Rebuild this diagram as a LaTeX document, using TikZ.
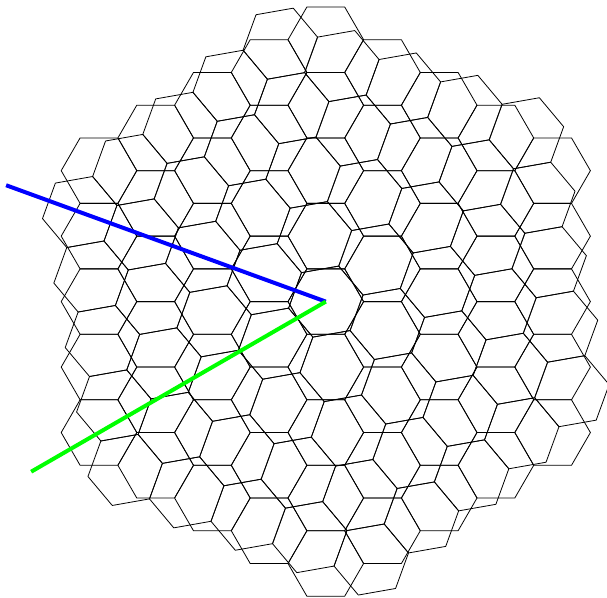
\documentclass[tikz,border=0pt]{standalone}
\usepackage{tikz}

\begin{document}
\begin{tikzpicture}[x=1cm, y=1cm,
  cell/.style={draw=black, line width=0.6pt, line join=round},
  bluearm/.style={draw=blue, line width=3pt},
  greenarm/.style={draw=green, line width=3pt},
]
  \useasboundingbox (-8.619,-7.841) rectangle (7.439,7.979);
  \clip (-8.619,-7.841) rectangle (7.439,7.979);
  \foreach \turn in {0,10} {
    \begin{scope}[rotate=\turn]
      \foreach \q in {-4,...,4} {
        \pgfmathtruncatemacro{\rlo}{max(-4,-4-\q)}
        \pgfmathtruncatemacro{\rhi}{min(4,4-\q)}
        \foreach \r in {\rlo,...,\rhi}
          \draw[cell] ({1.5*\q},{sqrt(3)*(\r+0.5*\q)}) +(0:1) -- +(60:1) -- +(120:1) -- +(180:1) -- +(240:1) -- +(300:1) -- cycle;
      }
    \end{scope}
  }
  \coordinate (O) at (0,0);
  \coordinate (blueEnd) at (160:9);
  \coordinate (greenEnd) at (210:9);
  \draw[bluearm] (blueEnd) -- (O);
  \draw[greenarm] (greenEnd) -- (O);
\end{tikzpicture}
\end{document}
